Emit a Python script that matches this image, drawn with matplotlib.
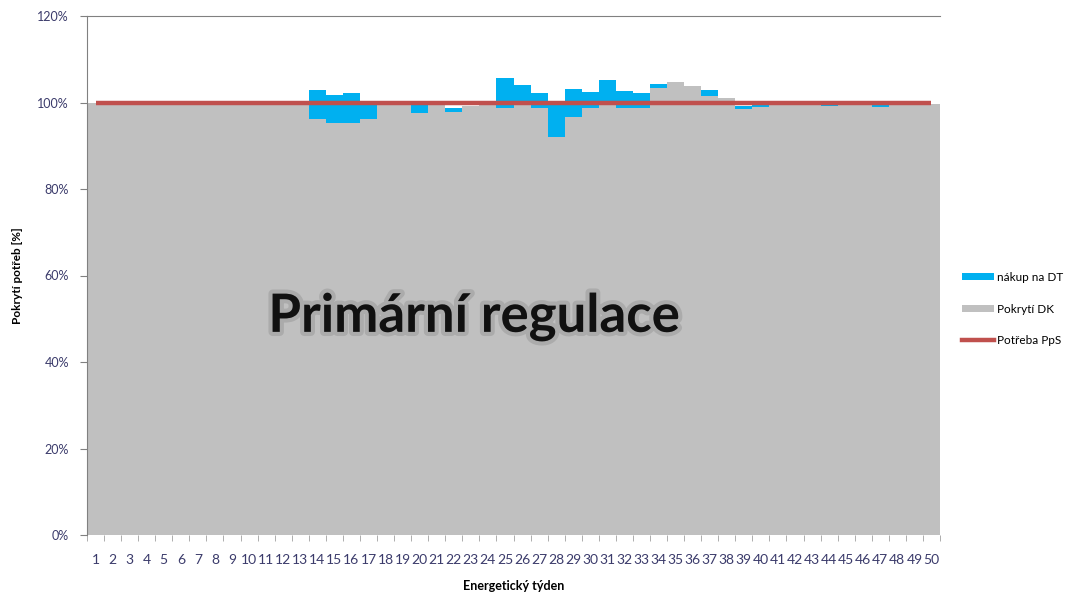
import matplotlib
matplotlib.use('Agg')
import matplotlib.pyplot as plt
import matplotlib.patheffects as pe
from matplotlib.patches import Patch
from matplotlib.lines import Line2D
from matplotlib.ticker import FuncFormatter, MultipleLocator
import numpy as np

plt.rcParams['font.family'] = ['Lato', 'DejaVu Sans']

weeks = list(range(1, 51))

# Pokrytí DK (gray) [%]
pokryti_dk = [99.8, 99.8, 99.8, 99.8, 99.8, 99.8, 99.8, 99.8, 99.8, 99.6,
              99.6, 99.6, 99.6, 96.3, 95.2, 95.2, 96.3, 99.6, 99.6, 97.5,
              99.6, 97.7, 99.3, 99.7, 98.7, 99.5, 98.7, 92.1, 96.6, 98.7,
              99.6, 98.7, 98.7, 103.3, 104.7, 103.7, 101.6, 101.1, 98.6, 99.0,
              99.6, 99.6, 99.6, 99.3, 99.6, 99.6, 99.0, 99.6, 99.6, 99.6]

# nákup na DT (blue) [%], stacked on top of DK
nakup_dt = [0, 0, 0, 0, 0, 0, 0, 0, 0, 0,
            0, 0, 0, 6.6, 6.5, 7.1, 3.7, 0, 0, 2.5,
            0, 1.1, 0, 0, 6.9, 4.5, 3.6, 7.8, 6.5, 3.8,
            5.6, 4.0, 3.6, 0.9, 0, 0, 1.3, 0, 0.5, 0.4,
            0, 0, 0, 0.3, 0, 0, 0.8, 0, 0, 0]

# Potřeba PpS (red) [%]
potreba_pps = [100] * 50

gray = '#C0C0C0'
blue = '#00B0F0'
red = '#C0504D'
tick_col = '#3B3B6B'

fig = plt.figure(figsize=(10.77, 6.0), dpi=100)
ax = fig.add_axes([87 / 1077, 65 / 600, 853 / 1077, 519 / 600])

# columns with no gap, drawn as one filled step outline per series (no seams)
edges = np.arange(len(weeks) + 1) + 0.5
dk = np.array(pokryti_dk)
total = dk + np.array(nakup_dt)
ax.stairs(dk, edges, baseline=0, fill=True, color=gray, linewidth=0)
ax.stairs(total, edges, baseline=dk, fill=True, color=blue, linewidth=0)
ax.plot(weeks, potreba_pps, color=red, linewidth=3.2, solid_capstyle='butt')

ax.set_xlim(0.5, 50.5)
ax.set_ylim(0, 120)
ax.yaxis.set_major_locator(MultipleLocator(20))
ax.yaxis.set_major_formatter(FuncFormatter(lambda v, p: '%d%%' % v))
ax.set_xticks(weeks)
ax.set_xticklabels([str(w) for w in weeks])
ax.set_xticks(edges, minor=True)
ax.tick_params(axis='x', which='major', length=0, pad=14, labelsize=10, labelcolor=tick_col)
ax.tick_params(axis='x', which='minor', length=4, color='#A0A0A0', direction='out')
ax.tick_params(axis='y', length=5, color='#808080', labelsize=9, labelcolor=tick_col, pad=8)

for s in ['right', 'bottom']:
    ax.spines[s].set_visible(False)
ax.spines['left'].set_color('#808080')
ax.spines['top'].set_color('#808080')
ax.spines['top'].set_linewidth(0.8)

ax.set_xlabel('Energetický týden', fontsize=9, fontweight='bold', labelpad=10)
ax.set_ylabel('Pokrytí potřeb [%]', fontsize=8.5, fontweight='bold', labelpad=10)

ax.text(23.2, 50.5, 'Primární regulace', fontsize=38, fontweight='bold', color='#111111',
        ha='center', va='center',
        path_effects=[pe.withStroke(linewidth=6, foreground='#9a9a9a', alpha=0.55)])

handles = [Patch(facecolor=blue, edgecolor='none', label='nákup na DT'),
           Patch(facecolor=gray, edgecolor='none', label='Pokrytí DK'),
           Line2D([0], [0], color=red, linewidth=3.2, label='Potřeba PpS')]
fig.legend(handles=handles, loc='center left', bbox_to_anchor=(0.893, 0.485),
           frameon=False, fontsize=8.5, handlelength=2.7, handleheight=0.6,
           handletextpad=0.25, labelspacing=1.75, borderpad=0, borderaxespad=0)

fig.savefig('out.png', dpi=100)
